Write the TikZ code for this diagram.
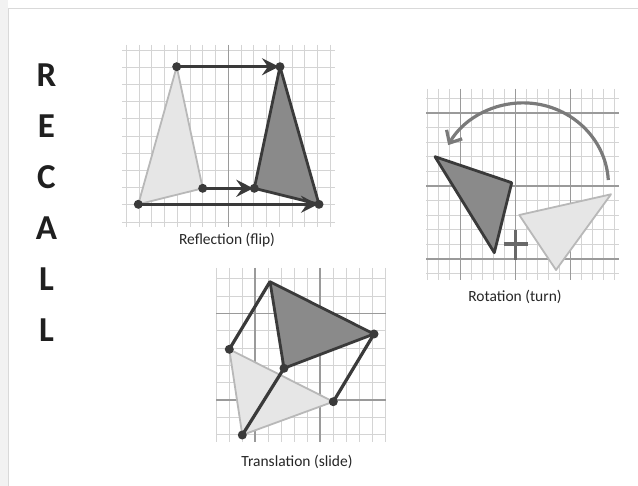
\documentclass[tikz,border=0pt]{standalone}
\usepackage{fontspec}
\setmainfont{Carlito}
\usetikzlibrary{arrows.meta}
\definecolor{gridc}{HTML}{D4D4D4}
\definecolor{majc}{HTML}{9A9A9A}
\definecolor{darkc}{HTML}{3A3A3A}
\definecolor{darkfill}{HTML}{8A8A8A}
\definecolor{lightfill}{HTML}{E6E6E6}
\definecolor{lightline}{HTML}{B8B8B8}
\definecolor{arcc}{HTML}{7A7A7A}
\tikzset{
  gridline/.style={draw=gridc, line width=0.8pt},
  majline/.style={draw=majc, line width=1.2pt},
  dot/.style={circle, fill=darkc, inner sep=0pt, minimum size=9pt},
  refarrow/.style={draw=darkc, line width=3.4pt, shorten >=1pt, -{Stealth[length=17pt,width=17pt,inset=6pt]}},
  darktri/.style={fill=darkfill, draw=darkc, line width=2.8pt, line join=round},
  lighttri/.style={fill=lightfill, draw=lightline, line width=1.8pt, line join=round},
  connector/.style={draw=darkc, line width=3.2pt},
  caption/.style={font=\fontsize{15.5}{18}\selectfont, text=black!85},
  letter/.style={font=\fontsize{35}{40}\selectfont\bfseries, text=black!88}
}
\begin{document}
\begin{tikzpicture}[x=1pt,y=-1pt]
\useasboundingbox (0,0) rectangle (638,486);
\fill[white] (0,0) rectangle (638,486);
\fill[black!5] (0,0) rectangle (8,486);
\draw[black!15, line width=0.8pt] (8,486) -- (8,8.5) -- (638,8.5);

% RECALL
\foreach \l [count=\i from 0] in {R,E,C,A,L,L}
  \node[letter] (letter\i) at (46.5,{75+51*\i}) {\l};

% ---------- Reflection ----------
\foreach \k in {0,...,16}
  \draw[gridline] ({126.3+12.75*\k},45) -- ++(0,182);
\foreach \k in {0,...,10}
  \draw[gridline] (122,{50+17.2*\k}) -- (335,{50+17.2*\k});
\draw[majline] (228.3,45) -- (228.3,227);

\coordinate (rA) at (176.7,66.7);
\coordinate (rB) at (138.3,204.3);
\coordinate (rC) at (202.7,188.3);
\coordinate (rA2) at (280,66.7);
\coordinate (rB2) at (319,204.3);
\coordinate (rC2) at (254.3,188.3);
\draw[lighttri] (rA) -- (rB) -- (rC) -- cycle;
\draw[darktri] (rA2) -- (rC2) -- (rB2) -- cycle;
\draw[refarrow] (rA) -- (rA2);
\draw[refarrow] (rC) -- (rC2);
\draw[refarrow] (rB) -- (rB2);
\foreach \p in {rA,rB,rC,rA2,rB2,rC2}
  \node[dot] (d\p) at (\p) {};
\node[caption] (capref) at (227,240) {Reflection (flip)};

% ---------- Rotation ----------
\foreach \k in {0,...,17}
  \draw[gridline] ({427.7+11*\k},89) -- (({427.7+11*\k},280);
\foreach \k in {0,...,12}
  \draw[gridline] (426,{98.4+14.6*\k}) -- (619,{98.4+14.6*\k});
\foreach \xx in {460.7,570.7}
  \draw[majline] (\xx,89) -- (\xx,280);
\foreach \yy in {113,186,259}
  \draw[majline] (426,\yy) -- (619,\yy);
\draw[majline] (515.7,89) -- (515.7,280);

\coordinate (oA) at (435,156.7);
\coordinate (oB) at (511.7,182.7);
\coordinate (oC) at (494.3,252.7);
\coordinate (lA) at (519.3,215);
\coordinate (lB) at (611,194.3);
\coordinate (lC) at (556,270);
\draw[lighttri] (lA) -- (lB) -- (lC) -- cycle;
\draw[darktri] (oA) -- (oB) -- (oC) -- cycle;
\coordinate (cross) at (515.7,244);
\draw[draw=arcc!85!black, line width=3.2pt] ([xshift=-12pt]cross) -- ([xshift=12pt]cross);
\draw[draw=arcc!85!black, line width=3.2pt] ([yshift=-16pt]cross) -- ([yshift=14pt]cross);
\coordinate (arcstart) at (608.3,180);
\draw[draw=arcc, line width=3.2pt, -{Straight Barb[length=10pt,width=18pt,line width=3.2pt]}]
  (arcstart) arc[start angle=-3.4, end angle=-151, x radius=85.5, y radius=82];
\node[caption] (caprot) at (515,297) {Rotation (turn)};

% ---------- Translation ----------
\foreach \k in {0,...,13}
  \draw[gridline] ({216+13*\k},268) -- ({216+13*\k},442);
\foreach \k in {0,...,9}
  \draw[gridline] (216,{278.7+17.33*\k}) -- (386,{278.7+17.33*\k});
\foreach \xx in {255,320}
  \draw[majline] (\xx,268) -- (\xx,442);
\foreach \yy in {313.3,400}
  \draw[majline] (216,\yy) -- (386,\yy);

\coordinate (tA) at (270,281.7);
\coordinate (tB) at (374,334);
\coordinate (tC) at (284,368.3);
\coordinate (tA2) at (229.3,349.3);
\coordinate (tB2) at (333.3,401.7);
\coordinate (tC2) at (242.3,435);
\draw[lighttri] (tA2) -- (tB2) -- (tC2) -- cycle;
\draw[darktri] (tA) -- (tB) -- (tC) -- cycle;
\draw[connector] (tA2) -- (tA);
\draw[connector] (tB2) -- (tB);
\draw[connector] (tC2) -- (tC);
\foreach \p in {tB,tC,tA2,tB2,tC2}
  \node[dot] (d\p) at (\p) {};
\node[caption] (captr) at (297,462) {Translation (slide)};
\end{tikzpicture}
\end{document}
